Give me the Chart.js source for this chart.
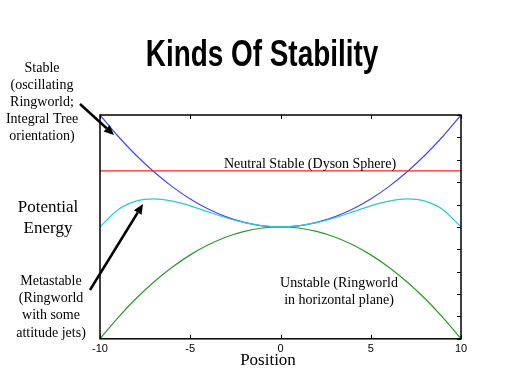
<!DOCTYPE html>
<html>
<head>
<meta charset="utf-8">
<script src="https://cdn.jsdelivr.net/npm/chart.js@4"></script>
<style>
  html, body { margin: 0; padding: 0; background: #fff; }
  #wrap { width: 512px; height: 384px; }
</style>
</head>
<body>
<div id="wrap"><canvas id="stabilityChart" width="512" height="384"></canvas></div>
<script>
// positions along the ring (x axis)
const positions = [-10, -9, -8, -7, -6, -5, -4, -3, -2, -1, 0, 1, 2, 3, 4, 5, 6, 7, 8, 9, 10];
// potential energy
const stable = [100, 81, 64, 49, 36, 25, 16, 9, 4, 1, 0, 1, 4, 9, 16, 25, 36, 49, 64, 81, 100];
const metastable = [0, 15.4, 23, 25, 23, 18.8, 13.4, 8.2, 3.8, 1, 0, 1, 3.8, 8.2, 13.4, 18.8, 23, 25, 23, 15.4, 0];
const unstable = [-100, -81, -64, -49, -36, -25, -16, -9, -4, -1, 0, -1, -4, -9, -16, -25, -36, -49, -64, -81, -100];
const neutralX = [-10, 10];
const neutral = [50, 50];
const xTicks = [-10, -5, 0, 5, 10];

function pts(xs, ys) {
    return xs.map((x, i) => ({ x: x, y: ys[i] }));
}

const serif = "'Liberation Serif', 'Times New Roman', serif";
const titleText = "Kinds Of Stability";

// annotation text around the plot
const notes = [
    { lines: ["Stable", "(oscillating", "Ringworld;", "Integral Tree", "orientation)"], x: 42, y: 72, size: 14, lh: 16.9 },
    { lines: ["Potential", "Energy"], x: 48, y: 212, size: 17, lh: 20.5 },
    { lines: ["Metastable", "(Ringworld", "with some", "attitude jets)"], x: 51, y: 285, size: 14, lh: 17.2 },
    { lines: ["Neutral Stable (Dyson Sphere)"], x: 310, y: 168, size: 14, lh: 17 },
    { lines: ["Unstable (Ringworld", "in horizontal plane)"], x: 339, y: 287, size: 14, lh: 16.6 },
    { lines: ["Position"], x: 268, y: 365, size: 17, lh: 17 },
];

const arrows = [
    { from: [80, 104], to: [114, 135] },
    { from: [90, 290], to: [143, 204] },
];

const framePlugin = {
    id: "frame",
    afterDatasetsDraw(chart) {
        const ctx = chart.ctx;
        const a = chart.chartArea;
        const xs = chart.scales.x;
        const ys = chart.scales.y;
        ctx.save();
        ctx.strokeStyle = "#000";
        ctx.lineWidth = 1.5;
        ctx.strokeRect(a.left, a.top, a.right - a.left, a.bottom - a.top);
        ctx.lineWidth = 1;
        ctx.beginPath();
        xs.ticks.forEach((t) => {
            const px = Math.round(xs.getPixelForValue(t.value)) + 0.5;
            ctx.moveTo(px, a.bottom);
            ctx.lineTo(px, a.bottom - 4);
            ctx.moveTo(px, a.top);
            ctx.lineTo(px, a.top + 4);
        });
        ys.ticks.forEach((t) => {
            const py = Math.round(ys.getPixelForValue(t.value)) + 0.5;
            ctx.moveTo(a.right, py);
            ctx.lineTo(a.right - 4, py);
        });
        ctx.stroke();
        ctx.restore();
    },
    afterDraw(chart) {
        const ctx = chart.ctx;
        ctx.save();
        ctx.fillStyle = "#000";
        ctx.textAlign = "center";
        ctx.textBaseline = "alphabetic";
        // narrow bold title
        ctx.save();
        ctx.translate(262, 66);
        ctx.scale(0.775, 1);
        ctx.font = "bold 36px 'Liberation Sans', Arial, sans-serif";
        ctx.fillText(titleText, 0, 0);
        ctx.restore();
        notes.forEach((n) => {
            ctx.font = n.size + "px " + serif;
            n.lines.forEach((line, i) => {
                ctx.fillText(line, n.x, n.y + i * n.lh);
            });
        });
        // arrows
        ctx.strokeStyle = "#000";
        ctx.lineWidth = 2.5;
        arrows.forEach((ar) => {
            const [x0, y0] = ar.from;
            const [x1, y1] = ar.to;
            const ang = Math.atan2(y1 - y0, x1 - x0);
            const hl = 10, hw = 4.5;
            const bx = x1 - hl * Math.cos(ang);
            const by = y1 - hl * Math.sin(ang);
            ctx.beginPath();
            ctx.moveTo(x0, y0);
            ctx.lineTo(bx, by);
            ctx.stroke();
            ctx.beginPath();
            ctx.moveTo(x1, y1);
            ctx.lineTo(bx + hw * Math.sin(ang), by - hw * Math.cos(ang));
            ctx.lineTo(bx - hw * Math.sin(ang), by + hw * Math.cos(ang));
            ctx.closePath();
            ctx.fill();
        });
        ctx.restore();
    },
};

const ctx = document.getElementById("stabilityChart").getContext("2d");
new Chart(ctx, {
    type: "line",
    data: {
        datasets: [
            {
                label: "Neutral Stable",
                data: pts(neutralX, neutral),
                borderColor: "#ff2020",
                borderWidth: 1.3,
            },
            {
                label: "Metastable",
                data: pts(positions, metastable),
                borderColor: "#30c8d0",
                borderWidth: 1.2,
                cubicInterpolationMode: "monotone",
            },
            {
                label: "Unstable",
                data: pts(positions, unstable),
                borderColor: "#2e9a2e",
                borderWidth: 1.2,
                cubicInterpolationMode: "monotone",
            },
            {
                label: "Stable",
                data: pts(positions, stable),
                borderColor: "#4646ff",
                borderWidth: 1.2,
                cubicInterpolationMode: "monotone",
            },
        ],
    },
    options: {
        responsive: false,
        animation: false,
        events: [],
        elements: { point: { radius: 0 } },
        layout: { padding: { left: 100, right: 51, top: 115, bottom: 24 } },
        plugins: {
            legend: { display: false },
            tooltip: { enabled: false },
            title: { display: false },
        },
        scales: {
            x: {
                type: "linear",
                min: -10,
                max: 10,
                afterBuildTicks: (scale) => {
                    scale.ticks = xTicks.map((v) => ({ value: v }));
                },
                grid: { display: false, drawTicks: false, tickLength: 0 },
                border: { display: false },
                ticks: {
                    color: "#000",
                    padding: 4,
                    maxRotation: 0,
                    font: { family: "'Liberation Sans', Arial, sans-serif", size: 11 },
                },
            },
            y: {
                min: -100,
                max: 100,
                ticks: { display: false, stepSize: 20 },
                grid: { display: false, drawTicks: false, tickLength: 0 },
                border: { display: false },
            },
        },
    },
    plugins: [framePlugin],
});
</script>
</body>
</html>
